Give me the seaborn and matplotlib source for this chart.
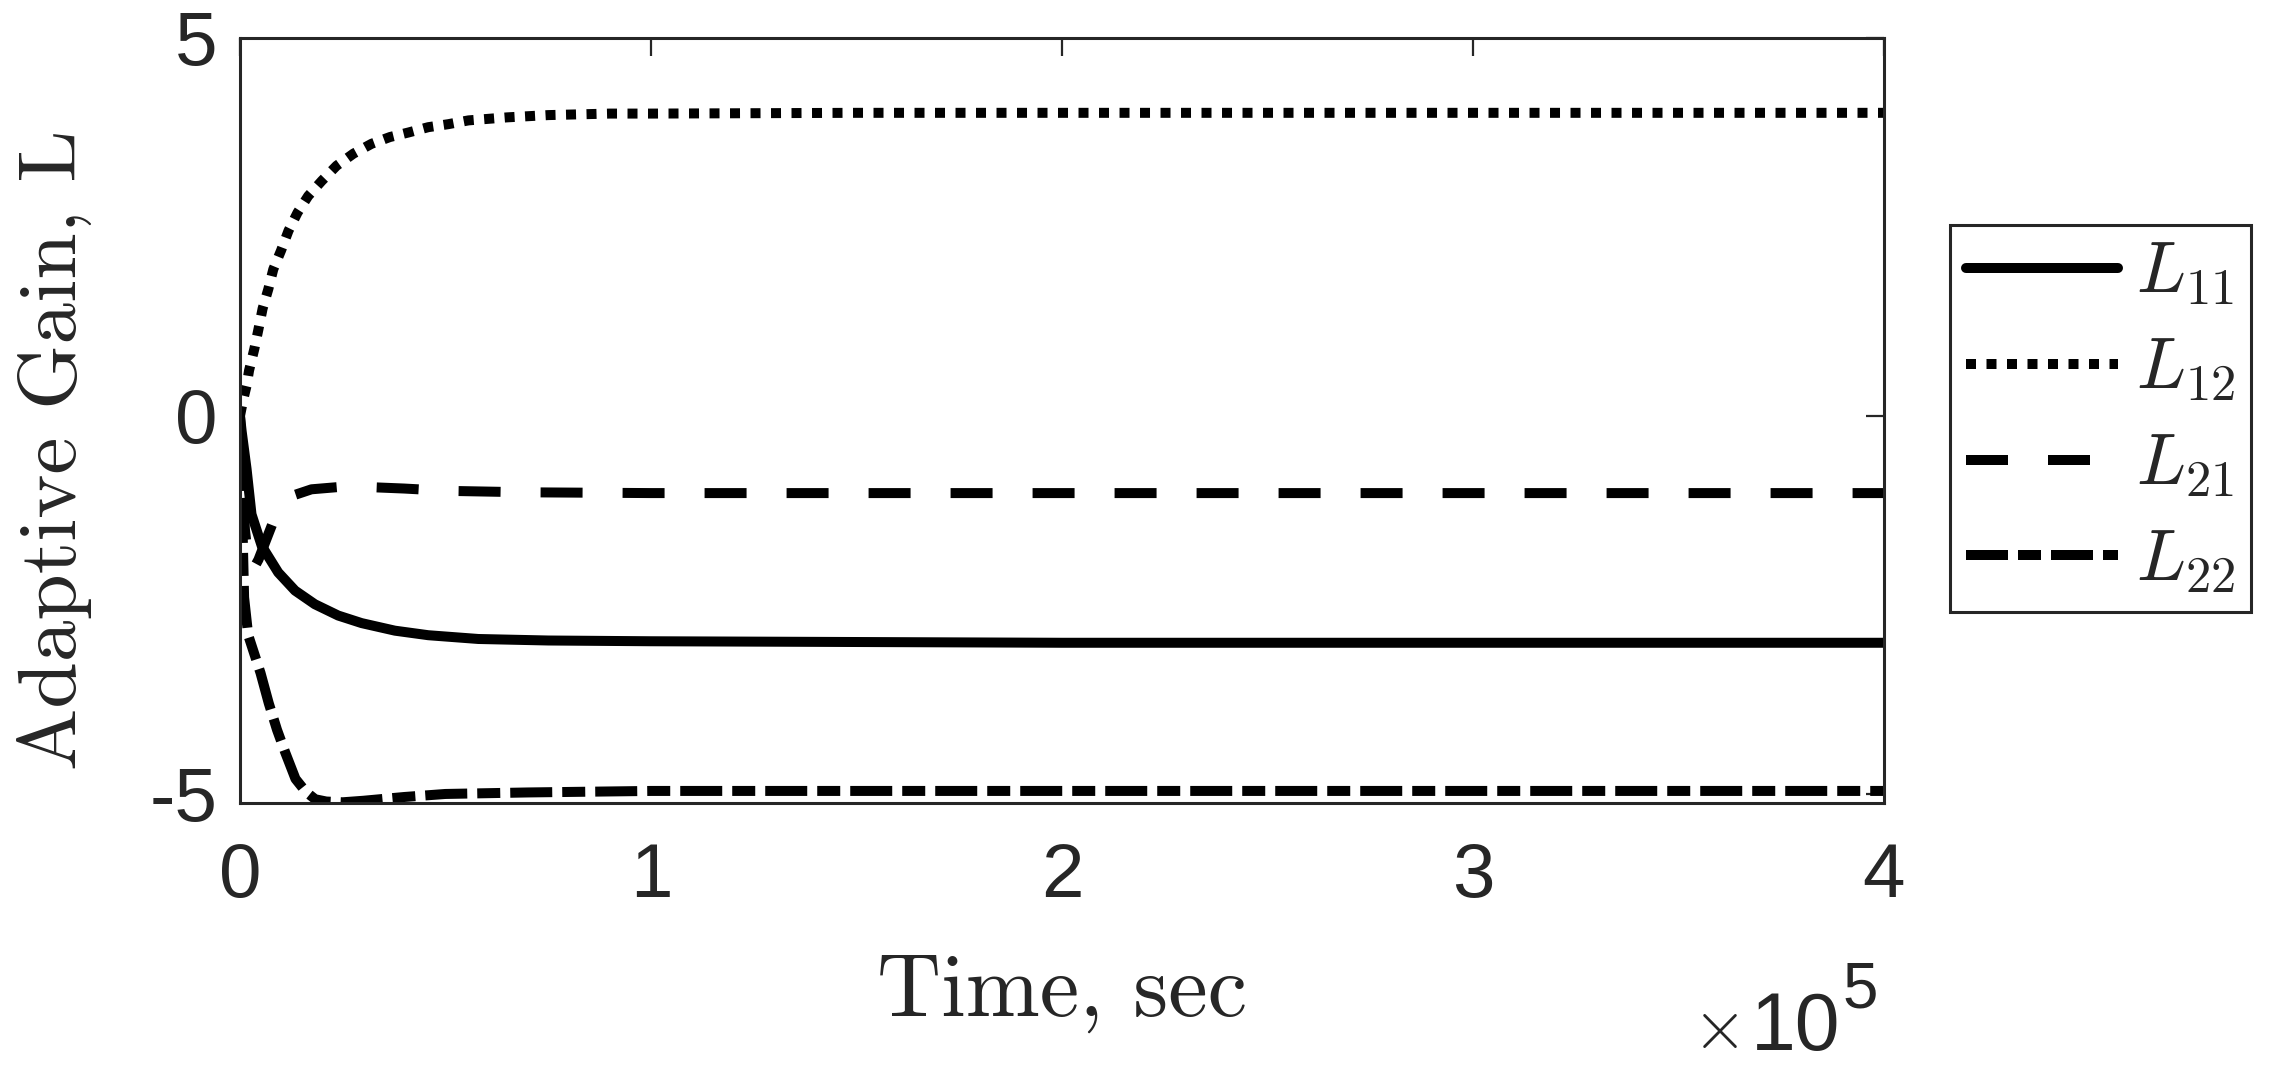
import numpy as np
import pandas as pd
import matplotlib
matplotlib.use("Agg")
import matplotlib.pyplot as plt
import seaborn as sns

# time in seconds, gains
t_L11 = [0, 400, 1000, 1600, 2800, 5300, 9300, 13400, 18200, 23900, 29600,
         37700, 45800, 58000, 75000, 100000, 150000, 200000, 300000, 400000]
L11 = [0, -0.2, -0.45, -0.7, -1.3, -1.72, -2.07, -2.31, -2.49, -2.64, -2.74,
       -2.84, -2.90, -2.95, -2.97, -2.98, -2.99, -3.0, -3.0, -3.0]

t_L12 = [0, 800, 1600, 2200, 3500, 4500, 5500, 6900, 8100, 10000, 11800, 14000,
         16600, 19900, 23500, 27600, 32000, 36500, 41000, 45800, 50700, 55600,
         65000, 75000, 90000, 100000, 150000, 200000, 300000, 400000]
L12 = [0, 0.22, 0.40, 0.60, 0.89, 1.15, 1.42, 1.68, 1.94, 2.19, 2.45, 2.69,
       2.91, 3.11, 3.31, 3.47, 3.60, 3.69, 3.75, 3.82, 3.86, 3.91,
       3.95, 3.98, 4.0, 4.0, 4.01, 4.01, 4.01, 4.01]

t_L21 = [0, 500, 1200, 2000, 3000, 4500, 7000, 9300, 13000, 17400, 24000,
         31000, 40000, 50000, 70000, 100000, 200000, 300000, 400000]
L21 = [0, -0.8, -1.5, -1.9, -2.05, -1.9, -1.55, -1.23, -1.05, -0.97, -0.94,
       -0.94, -0.96, -0.99, -1.01, -1.02, -1.02, -1.02, -1.02]

t_L22 = [0, 500, 1000, 2000, 3500, 5000, 7000, 9000, 11000, 13500, 16000,
         18300, 21000, 25000, 30000, 40000, 50000, 70000, 100000, 150000,
         200000, 300000, 400000]
L22 = [0, -1.2, -2.4, -2.9, -3.15, -3.4, -3.8, -4.15, -4.45, -4.8, -4.97,
       -5.07, -5.1, -5.11, -5.09, -5.04, -5.0, -4.98, -4.96, -4.96,
       -4.96, -4.96, -4.96]

names = ["L11", "L12", "L21", "L22"]
labels = [r"$L_{11}$", r"$L_{12}$", r"$L_{21}$", r"$L_{22}$"]

df = pd.concat([
    pd.DataFrame({"t": t_L11, "L": L11, "gain": "L11"}),
    pd.DataFrame({"t": t_L12, "L": L12, "gain": "L12"}),
    pd.DataFrame({"t": t_L21, "L": L21, "gain": "L21"}),
    pd.DataFrame({"t": t_L22, "L": L22, "gain": "L22"}),
])

sns.set_style("white")
plt.rcParams["font.family"] = ["Liberation Sans", "DejaVu Sans"]
plt.rcParams["mathtext.fontset"] = "cm"
plt.rcParams["axes.unicode_minus"] = False

dark = "#262626"
lw = 7.2

fig = plt.figure(figsize=(22.85, 10.7), dpi=100)
ax = fig.add_axes([0.10503, 0.2495, 0.71947, 0.7150])

sns.lineplot(data=df, x="t", y="L", style="gain", style_order=names,
             dashes={"L11": "", "L12": (1.0, 1.05), "L21": (4.2, 4.0),
                     "L22": (4.2, 1.0, 2.3, 1.0)},
             color="black", linewidth=lw, estimator=None, legend=False, ax=ax)

ax.set_xlim(0, 4e5)
ax.set_ylim(-5.12, 5)
ax.set_xticks([0, 1e5, 2e5, 3e5, 4e5])
ax.set_xticklabels(["0", "1", "2", "3", "4"])
ax.set_yticks([-5, 0, 5])
ax.set_yticklabels(["-5", "0", "5"])
ax.set_xlabel("")
ax.set_ylabel("")

for s in ax.spines.values():
    s.set_color(dark)
    s.set_linewidth(2.2)
ax.tick_params(direction="in", top=True, right=True, length=13, width=1.6,
               color=dark, labelcolor=dark, labelsize=55)
ax.tick_params(axis="x", pad=28)
ax.tick_params(axis="y", pad=16)

fig.text(0.4648, 1 - 1016 / 1070, "Time, sec", fontsize=64,
         family="cmr10", ha="center", va="baseline", color=dark)
fig.text(0.024, 0.580, "Adaptive Gain, L", fontsize=60, family="cmr10",
         rotation=90, ha="center", va="center", color=dark)
# axis multiplier, as drawn under the right end of the x axis
fig.text(1738 / 2285, 1 - 1048 / 1070, r"$\times$", fontsize=50,
         ha="right", va="baseline", color=dark)
fig.text(1840 / 2285, 1 - 1050 / 1070, "10", fontsize=58,
         ha="right", va="baseline", color=dark)
fig.text(1843 / 2285, 1 - 1008 / 1070, "5", fontsize=46,
         ha="left", va="baseline", color=dark)

leg = ax.legend(handles=ax.lines[:4], labels=labels, loc="center left",
                bbox_to_anchor=(0.8534, 0.609), bbox_transform=fig.transFigure,
                borderaxespad=0, fontsize=52, handlelength=2.1,
                handletextpad=0.25, borderpad=0.22, labelspacing=0.4,
                fancybox=False, framealpha=1)
leg.get_frame().set_edgecolor(dark)
leg.get_frame().set_linewidth(2.2)

fig.savefig("out.png", dpi=100)
